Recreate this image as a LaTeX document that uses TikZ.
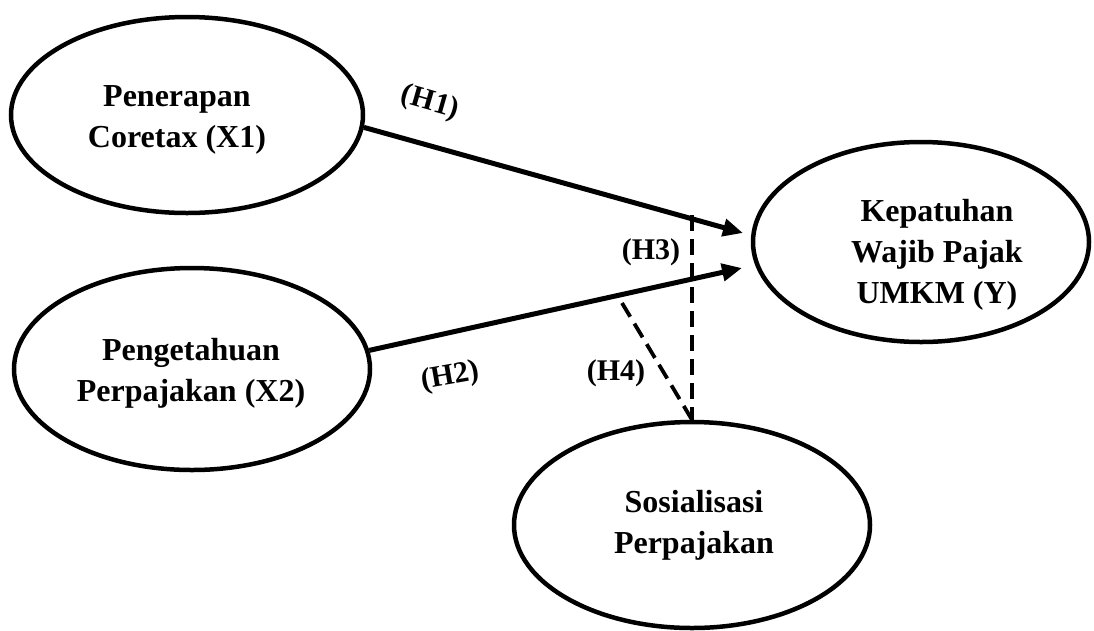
\documentclass[tikz,border=0pt]{standalone}
\usepackage{fontspec}
\setmainfont{Liberation Serif}
\usetikzlibrary{arrows.meta,shapes.geometric}
\begin{document}
\begin{tikzpicture}[x=1pt,y=-1pt,
  ell/.style={draw, ellipse, line width=4.5pt, inner sep=0pt},
  txt/.style={align=center, inner sep=0pt, font=\fontsize{32}{41}\selectfont\bfseries},
  lab/.style={inner sep=0pt, font=\fontsize{30}{34}\selectfont\bfseries},
  arr/.style={line width=5pt, -{Triangle[length=20pt,width=17pt]}},
  dsh/.style={line width=3.8pt, dash pattern=on 16pt off 8pt}
]
\useasboundingbox (0,0) rectangle (1094,630);
% ellipses
\node[ell, minimum width=352pt, minimum height=196pt] (x1) at (187,115) {};
\node[ell, minimum width=356pt, minimum height=202pt] (x2) at (192,369) {};
\node[ell, minimum width=336pt, minimum height=200pt] (y) at (921,242) {};
\node[ell, minimum width=356pt, minimum height=206pt] (s) at (692,525) {};
% texts
\node[txt] (x1t) at (177,120) {Penerapan\\Coretax (X1)};
\node[txt] (x2t) at (191,373) {Pengetahuan\\Perpajakan (X2)};
\node[txt] (yt) at (937,255) {Kepatuhan\\Wajib Pajak\\UMKM (Y)};
\node[txt] (st) at (694,525) {Sosialisasi\\Perpajakan};
% connector ends
\coordinate (h1end) at (743,233);
\coordinate (h2end) at (742,268);
\coordinate (d1) at (692,215);
\coordinate (d2) at (622,303);
% connectors
\draw[arr] (x1.-4) -- (h1end);
\draw[arr] (x2.6) -- (h2end);
\draw[dsh] (d1) -- (s.north);
\draw[dsh] (d2) -- (s.north);
% labels
\node[lab, rotate=-16] (h1) at (430,103) {(H1)};
\node[lab, rotate=10] (h2) at (450,377) {(H2)};
\node[lab] (h3) at (651,252) {(H3)};
\node[lab] (h4) at (616,373) {(H4)};
\end{tikzpicture}
\end{document}
